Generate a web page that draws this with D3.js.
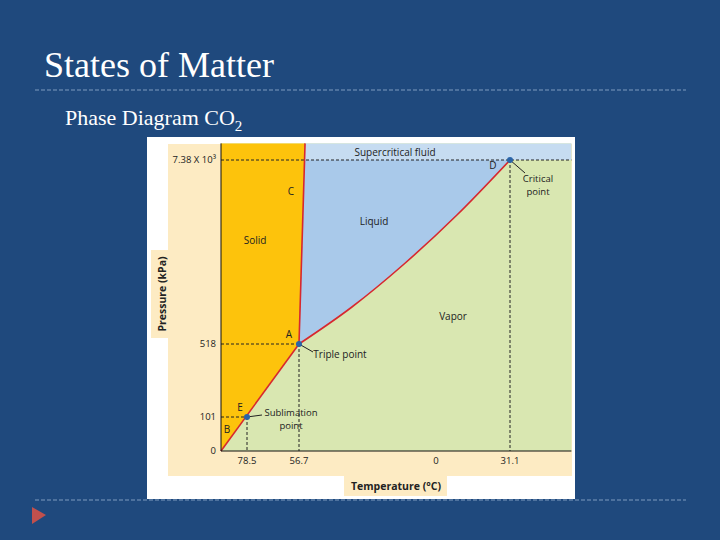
<!DOCTYPE html><html><head><meta charset="utf-8"><script src="https://cdn.jsdelivr.net/npm/d3@7"></script>
<style>body{margin:0;background:#1f497d}svg{display:block}</style></head><body><svg id="s" width="720" height="540"></svg>
<script>
const xTicks=[-78.5,-56.7,0,31.1];
const xTickLabels=["78.5","56.7","0","31.1"];
const yTicks=[0,101,518,7380];
const yTickLabels=["0","101","518","7.38 X 10³"];
const triple={t:-56.7,p:518};
const sublimation={t:-78.5,p:101};
const critical={t:31.1,p:7380};
const origin={t:-89.4,p:0};
const meltTop={t:-54.2,p:8000};
const vaporCurve=[[-56.7,518],[-34.8,1898],[-13.2,3502],[8.8,5329],[31.1,7380]];
const tMin=-89.4,tMax=56.9,pMax=8000;

const svg=d3.select("#s");
const x=d3.scaleLinear().domain(xTicks).range([247,299,436,510]);
const y=d3.scaleLinear().domain(yTicks).range([451,417,344,160]);
const xr=t=>x(t), yr=p=>y(p);
svg.append("text").attr("x",44).attr("y",77).attr("fill","#fff").attr("font-family","Liberation Serif").attr("font-size",36).text("States of Matter");
[90,500].forEach(v=>svg.append("line").attr("x1",35).attr("x2",686).attr("y1",v).attr("y2",v).attr("stroke","#7f9cc0").attr("stroke-dasharray","4,2").attr("stroke-width",1));
svg.append("text").attr("x",44).attr("y",124).attr("fill","#fff").attr("font-family","DejaVu Sans").attr("font-size",11).text("");
svg.append("text").attr("x",65).attr("y",125).attr("fill","#fff").attr("font-family","Liberation Serif").attr("font-size",22).html('Phase Diagram CO<tspan font-size="15" dy="6">2</tspan>');
svg.append("path").attr("d","M32,507L46,515L32,524Z").attr("fill","#c0504d");
svg.append("rect").attr("x",147).attr("y",137).attr("width",428).attr("height",362).attr("fill","#fff");
svg.append("rect").attr("x",168).attr("y",144).attr("width",404).attr("height",332).attr("fill","#fdebc3");
svg.append("rect").attr("x",344).attr("y",476).attr("width",103).attr("height",20).attr("fill","#fdebc3");
svg.append("rect").attr("x",151).attr("y",250).attr("width",20).attr("height",88).attr("fill","#fdebc3");
const L0=xr(tMin),R=xr(tMax),T=yr(pMax),B=yr(0);
svg.append("rect").attr("x",L0).attr("y",T).attr("width",R-L0).attr("height",B-T).attr("fill","#d9e7b1");
const meltXpix=p=>xr(triple.t)+(xr(meltTop.t)-xr(triple.t))*(yr(p)-yr(triple.p))/(yr(meltTop.p)-yr(triple.p));
const mc=meltXpix(critical.p);
svg.append("path").attr("d",`M${mc},${yr(critical.p)}L${R},${yr(critical.p)}L${R},${T}L${xr(meltTop.t)},${T}Z`).attr("fill","#c6dcf1");
const line=d3.line().x(d=>xr(d[0])).y(d=>yr(d[1])).curve(d3.curveMonotoneX);
const vp=line(vaporCurve);
svg.append("path").attr("d",vp+`L${mc},${yr(critical.p)}Z`).attr("fill","#a9c9ea");
svg.append("path").attr("d",`M${xr(origin.t)},${yr(0)}L${xr(origin.t)},${T}L${xr(meltTop.t)},${T}L${xr(triple.t)},${yr(triple.p)}Z`).attr("fill","#fdc30c");
const dash=(x1,y1,x2,y2)=>svg.append("line").attr("x1",x1).attr("y1",y1).attr("x2",x2).attr("y2",y2).attr("stroke","#222").attr("stroke-dasharray","3,2").attr("stroke-width",1);
dash(L0,yr(critical.p),R,yr(critical.p));
dash(xr(critical.t),yr(critical.p),xr(critical.t),B);
[triple,sublimation].forEach(d=>{dash(L0,yr(d.p),xr(d.t),yr(d.p));dash(xr(d.t),yr(d.p),xr(d.t),B);});
const red="#d7282f";
svg.append("path").attr("d",vp).attr("fill","none").attr("stroke",red).attr("stroke-width",1.6);
svg.append("line").attr("x1",xr(origin.t)).attr("y1",yr(0)).attr("x2",xr(triple.t)).attr("y2",yr(triple.p)).attr("stroke",red).attr("stroke-width",1.6);
svg.append("line").attr("x1",xr(triple.t)).attr("y1",yr(triple.p)).attr("x2",xr(meltTop.t)).attr("y2",T).attr("stroke",red).attr("stroke-width",1.6);
svg.append("line").attr("x1",L0).attr("x2",L0).attr("y1",T).attr("y2",B).attr("stroke","#111");
svg.append("line").attr("x1",L0).attr("x2",R).attr("y1",B).attr("y2",B).attr("stroke","#111");
const f="Open Sans";
const txt=(tx,ty,s,sz,anchor,w)=>svg.append("text").attr("x",tx).attr("y",ty).attr("font-family",f).attr("font-size",sz||10).attr("fill","#222").attr("text-anchor",anchor||"middle").attr("font-weight",w||"normal").text(s);
xTicks.forEach((t,i)=>txt(xr(t),464,xTickLabels[i],9.5));
yTicks.forEach((p,i)=>txt(L0-5,yr(p)+3,yTickLabels[i],9.5,"end"));
txt(396,490,"Temperature (°C)",10.5,"middle","bold");
svg.append("text").attr("transform","translate(166,294) rotate(-90)").attr("font-family",f).attr("font-size",10.5).attr("font-weight","bold").attr("text-anchor","middle").attr("fill","#222").text("Pressure (kPa)");
txt(395,156,"Supercritical fluid");
txt(374,225,"Liquid");
txt(255,244,"Solid");
txt(453,320,"Vapor");
txt(291,195,"C");
txt(493,169,"D");
txt(289,338,"A");
txt(240,411,"E");
txt(227,433,"B");
txt(538,182,"Critical",9.5);txt(538,195,"point",9.5);
txt(340,358,"Triple point");
txt(291,416,"Sublimation",9.5);txt(291,429,"point",9.5);
const pt=(tx,ty,lx,ly)=>svg.append("line").attr("x1",tx).attr("y1",ty).attr("x2",lx).attr("y2",ly).attr("stroke","#222");
pt(xr(critical.t),yr(critical.p),525,173);
pt(xr(triple.t),yr(triple.p),313,352);
pt(xr(sublimation.t),yr(sublimation.p),262,415);
[critical,triple,sublimation].forEach(d=>svg.append("circle").attr("cx",xr(d.t)).attr("cy",yr(d.p)).attr("r",3).attr("fill","#2a64a8"));
</script></body></html>
